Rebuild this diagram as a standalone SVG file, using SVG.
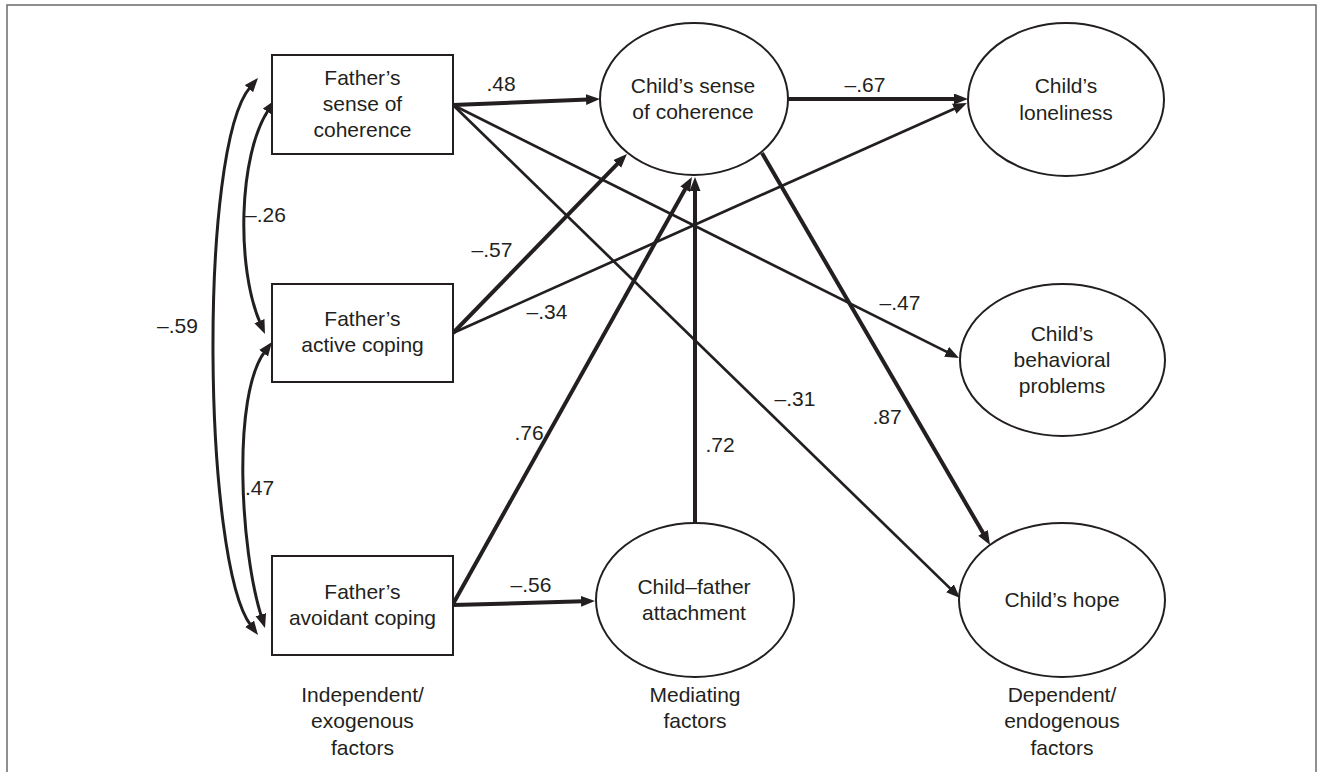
<svg xmlns="http://www.w3.org/2000/svg" width="1318" height="772" viewBox="0 0 1318 772">
  <style>
    text { font-family: "Liberation Sans", Arial, sans-serif; font-size: 21px; fill: #231f20; }
    .c { text-anchor: middle; }
    .node { fill: #ffffff; stroke: #231f20; stroke-width: 2; }
    .path { fill: none; stroke: #231f20; }
    .thick { stroke-width: 4; }
    .thin { stroke-width: 2.7; }
    .arc { stroke-width: 3; }
  </style>
  <defs>
    <marker id="head" markerUnits="userSpaceOnUse" markerWidth="16" markerHeight="12" refX="2" refY="5.5" orient="auto-start-reverse">
      <path d="M0,0 L14,5.5 L0,11 z" fill="#231f20"/>
    </marker>
  </defs>

  <rect x="7" y="5" width="1309" height="800" fill="#ffffff" stroke="#6b6b6b" stroke-width="1.5"/>

  <!-- connectors -->
  <g id="connectors">
    <!-- correlations among father variables -->
    <path class="path arc" d="M268.4,110 C238.2,155.7 236.2,267.8 260.2,323" marker-start="url(#head)" marker-end="url(#head)"/>
    <path class="path arc" d="M264.8,351.6 C231.8,395.6 240.4,550.1 261.4,616.6" marker-start="url(#head)" marker-end="url(#head)"/>
    <path class="path arc" d="M250.2,87.1 C198.2,147.9 202.8,561.4 250.8,625.4" marker-start="url(#head)" marker-end="url(#head)"/>
    <!-- paths -->
    <line class="path thick" x1="453" y1="105" x2="588" y2="99.5" marker-end="url(#head)"/>
    <line class="path thin" x1="453" y1="105" x2="948.3" y2="352.6" marker-end="url(#head)"/>
    <line class="path thin" x1="453" y1="105" x2="951.4" y2="589.6" marker-end="url(#head)"/>
    <line class="path thick" x1="453" y1="333" x2="618.6" y2="162.6" marker-end="url(#head)"/>
    <line class="path thin" x1="453" y1="333" x2="956" y2="107.9" marker-end="url(#head)"/>
    <line class="path thick" x1="453" y1="604" x2="686.1" y2="187.5" marker-end="url(#head)"/>
    <line class="path thick" x1="695" y1="523" x2="695" y2="189" marker-end="url(#head)"/>
    <line class="path thick" x1="453" y1="605" x2="583" y2="601.3" marker-end="url(#head)"/>
    <line class="path thick" x1="788" y1="99" x2="956" y2="99" marker-end="url(#head)"/>
    <line class="path thick" x1="762" y1="153" x2="984" y2="534.6" marker-end="url(#head)"/>
  </g>

  <!-- path coefficients -->
  <g id="coefficients">
    <text x="501" y="91" class="c">.48</text>
    <text x="245" y="222">–.26</text>
    <text x="177.5" y="333" class="c">–.59</text>
    <text x="245" y="495">.47</text>
    <text x="492" y="257" class="c">–.57</text>
    <text x="547" y="319" class="c">–.34</text>
    <text x="529" y="440" class="c">.76</text>
    <text x="720" y="452" class="c">.72</text>
    <text x="531" y="592" class="c">–.56</text>
    <text x="865" y="92" class="c">–.67</text>
    <text x="900" y="310" class="c">–.47</text>
    <text x="795" y="406" class="c">–.31</text>
    <text x="887" y="424" class="c">.87</text>
  </g>

  <!-- exogenous variables -->
  <g id="father-soc">
    <rect class="node" x="272" y="55" width="181" height="99"/>
    <text x="362.5" y="85" class="c">Father’s</text>
    <text x="362.5" y="111" class="c">sense of</text>
    <text x="362.5" y="137" class="c">coherence</text>
  </g>
  <g id="father-active">
    <rect class="node" x="272" y="284" width="181" height="98"/>
    <text x="362.5" y="326" class="c">Father’s</text>
    <text x="362.5" y="352" class="c">active coping</text>
  </g>
  <g id="father-avoidant">
    <rect class="node" x="272" y="556" width="181" height="99"/>
    <text x="362.5" y="599" class="c">Father’s</text>
    <text x="362.5" y="625" class="c">avoidant coping</text>
  </g>

  <!-- mediators -->
  <g id="child-soc">
    <ellipse class="node" cx="694" cy="99" rx="94" ry="76"/>
    <text x="693" y="93" class="c">Child’s sense</text>
    <text x="693" y="119" class="c">of coherence</text>
  </g>
  <g id="attachment">
    <ellipse class="node" cx="695" cy="600" rx="99" ry="77"/>
    <text x="694" y="594" class="c">Child–father</text>
    <text x="694" y="620" class="c">attachment</text>
  </g>

  <!-- outcomes -->
  <g id="loneliness">
    <ellipse class="node" cx="1066" cy="99.5" rx="98" ry="76.5"/>
    <text x="1066" y="93" class="c">Child’s</text>
    <text x="1066" y="120" class="c">loneliness</text>
  </g>
  <g id="behavior">
    <ellipse class="node" cx="1062.5" cy="360" rx="102.5" ry="76"/>
    <text x="1062" y="341" class="c">Child’s</text>
    <text x="1062" y="367" class="c">behavioral</text>
    <text x="1062" y="393" class="c">problems</text>
  </g>
  <g id="hope">
    <ellipse class="node" cx="1062" cy="600" rx="103" ry="77"/>
    <text x="1062" y="607" class="c">Child’s hope</text>
  </g>

  <!-- column captions -->
  <g id="captions">
    <text x="362.5" y="702" class="c">Independent/</text>
    <text x="362.5" y="728" class="c">exogenous</text>
    <text x="362.5" y="755" class="c">factors</text>
    <text x="695" y="702" class="c">Mediating</text>
    <text x="695" y="728" class="c">factors</text>
    <text x="1062" y="702" class="c">Dependent/</text>
    <text x="1062" y="728" class="c">endogenous</text>
    <text x="1062" y="755" class="c">factors</text>
  </g>
</svg>
